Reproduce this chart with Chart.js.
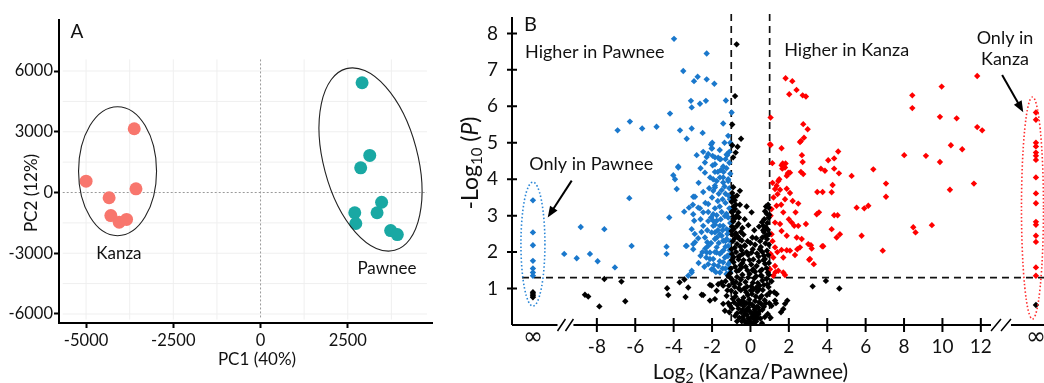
<!DOCTYPE html>
<html>
<head>
<meta charset="utf-8">
<script src="https://cdn.jsdelivr.net/npm/chart.js@4.4.1/dist/chart.umd.min.js"></script>
<style>
  html, body { margin: 0; padding: 0; background: #fff; }
  #wrapA { position: absolute; left: 0; top: 0; width: 440px; height: 383px; }
  #wrapB { position: absolute; left: 440px; top: 0; width: 604px; height: 383px; }
</style>
</head>
<body>
<div id="wrapA"><canvas id="pca"></canvas></div>
<div id="wrapB"><canvas id="volcano"></canvas></div>
<script>
// ---------- Panel A : PCA scores ----------
var kanzaPC1 = [-5000, -3620, -3570, -4340, -4290, -4050, -3840];
var kanzaPC2 = [560, 3150, 180, -260, -1140, -1470, -1330];
var pawneePC1 = [2910, 3130, 2870, 3470, 3340, 2700, 2730, 3730, 3920];
var pawneePC2 = [5420, 1830, 1220, -480, -1000, -1000, -1530, -1880, -2080];
var pcaXTicks = [-5000, -2500, 0, 2500];
var pcaYTicks = [-6000, -3000, 0, 3000, 6000];
var pcaGridX = [-5000, -3750, -2500, -1250, 1250, 2500, 3750];
var pcaGridY = [-6000, -4500, -3000, -1500, 1500, 3000, 4500, 6000];

// ---------- Panel B : volcano plot ----------
var volcanoXTicks = [-8, -6, -4, -2, 0, 2, 4, 6, 8, 10, 12];
var volcanoYTicks = [1, 2, 3, 4, 5, 6, 7, 8];
var infLeft = -11.33, infRight = 14.87;   // where the "only in" columns sit
var pCutoff = 1.3, foldCutoff = 1;

var higherPawnee = [
  [-3.98,7.85],[-2.28,7.45],[-3.5,6.97],[-2.75,6.81],[-2.94,6.69],[-2.28,6.74],[-1.88,6.62],[-3.1,6.15],[-2.63,6.07],[-2.32,6.15],
  [-1.28,6.16],[-4.19,5.8],[-1.42,5.53],[-6.28,5.58],[-6.92,5.34],[-5.64,5.39],[-4.89,5.44],[-3.67,5.34],[-3.06,5.39],[-3.32,5.11],
  [-1.16,5.19],[-1.99,5.0],[-2.02,4.84],[-2.46,4.75],[-2.8,4.66],[-2.28,4.61],[-1.68,4.59],[-1.24,4.68],[-1.85,4.41],[-2.37,4.46],
  [-1.42,4.35],[-3.76,4.35],[-4.02,4.11],[-2.37,4.18],[-1.76,3.95],[-1.42,4.05],[-1.16,3.95],[-3.84,3.73],[-2.46,3.65],[-1.85,3.77],
  [-1.5,3.7],[-2.98,3.52],[-1.07,3.45],[-6.31,3.48],[-3.2,3.22],[-2.63,3.2],[-2.2,3.1],[-3.45,3.11],[-4.23,2.95],[-1.76,3.01],
  [-1.33,2.99],[-8.84,2.69],[-7.61,2.63],[-2.93,2.86],[-2.46,2.72],[-1.94,2.86],[-1.42,2.72],[-2.72,2.38],[-1.85,2.54],[-1.5,2.45],
  [-3.36,2.17],[-2.98,2.22],[-6.19,2.17],[-4.37,2.15],[-4.37,1.95],[-9.7,1.95],[-9.05,1.83],[-8.36,1.95],[-7.96,1.75],[-7.06,1.58],
  [-2.28,1.99],[-2.11,1.81],[-1.76,1.99],[-1.42,1.72],[-1.16,1.9],[-3.06,1.49],[-3.24,1.35],[-1.94,1.53],[-1.24,1.4],[-2.25,2.27],
  [-1.24,2.36],[-0.98,5.83],[-2.49,5.27],[-2.05,4.95],[-2.0,4.85],[-2.2,4.69],[-1.85,4.6],[-1.59,4.55],[-1.21,4.66],[-0.98,4.94],
  [-3.06,5.97],[-1.97,4.64],[-1.55,4.55],[-1.97,4.38],[-3.76,4.32],[-3.93,4.0],[-1.94,4.0],[-1.59,4.05],[-1.42,3.91],[-1.16,4.0],
  [-1.85,3.82],[-1.94,3.68],[-2.89,3.52],[-2.2,3.32],[-2.72,3.22],[-2.46,3.09],[-2.98,3.04],[-1.94,3.04],[-1.76,2.86],[-1.16,2.95],
  [-1.94,2.72],[-1.59,2.72],[-1.24,2.63],[-3.06,2.63],[-2.02,2.54],[-1.59,2.49],[-2.37,2.4],[-1.85,2.36],[-1.42,2.31],[-3.32,2.17],
  [-2.89,2.27],[-2.98,2.08],[-2.2,2.17],[-1.76,2.13],[-1.16,2.17],[-2.11,1.99],[-1.59,1.95],[-1.94,1.81],[-1.33,1.85],[-2.2,1.67],
  [-1.68,1.62],[-1.16,1.67],[-3.06,1.44],[-1.59,1.44],[-1.24,1.4],[-2.02,1.53],[-1.1,3.2],[-1.3,3.35],[-1.7,3.4],[-2.0,3.5],
  [-1.5,3.1],[-1.05,2.8],[-1.2,2.5],[-1.08,2.05],[-1.3,2.15],[-1.5,2.0],[-1.45,1.55],[-1.1,1.55],[-1.8,1.45],[-2.4,1.6],
  [-2.6,1.9],[-2.35,2.1],[-1.65,2.25],[-1.05,2.3],[-2.55,2.55],[-1.7,2.6],[-2.2,2.85],[-1.6,3.25],[-1.3,3.6],[-1.1,3.75],
  [-1.55,4.25],[-1.25,4.3],[-1.1,4.45],[-1.7,4.2],[-1.05,5.0],[-1.1,4.75],[-1.3,1.55],[-1.6,1.75],[-1.9,1.65],[-2.3,1.85],
  [-1.05,1.75],[-1.4,2.05],[-1.85,2.0],[-2.05,2.25],[-1.3,2.3],[-1.75,2.4],[-2.25,2.6],[-1.45,2.6],[-1.1,2.6],[-1.85,2.75],
  [-1.55,2.9],[-2.05,2.95],[-1.25,3.05],[-1.85,3.2],[-2.35,3.35],[-1.45,3.45],[-1.15,3.55],[-1.65,3.6],[-2.15,3.75],[-1.35,3.8],
  [-1.05,4.15],[-1.4,4.2],[-1.85,4.2],[-2.1,4.05],[-1.3,4.55],[-1.6,4.8],[-1.35,5.0],[-2.6,4.3],[-2.7,3.9],[-2.5,2.0],
  [-2.7,1.7],[-2.9,2.5],[-2.6,2.9],[-3.0,3.3],[-1.05,1.45],[-1.2,1.9]
];

var higherKanza = [
  [1.83,6.77],[2.18,6.69],[2.4,6.45],[2.02,6.33],[2.72,6.3],[2.89,6.27],[11.81,6.83],[9.96,6.54],[8.43,6.3],[8.43,5.95],
  [9.87,5.71],[10.74,5.67],[11.81,5.43],[12.07,5.34],[1.05,5.69],[2.75,5.51],[2.98,5.37],[2.63,5.05],[2.79,5.14],[1.62,4.85],
  [2.68,4.66],[10.44,4.93],[11.03,4.82],[8.01,4.66],[9.14,4.64],[9.87,4.47],[1.05,4.94],[1.14,4.44],[1.68,4.43],[1.8,4.32],
  [2.06,4.18],[2.72,4.47],[2.63,4.2],[2.75,4.14],[4.57,4.76],[4.05,4.52],[4.36,4.57],[3.67,4.29],[3.88,4.23],[4.36,4.29],
  [4.61,4.16],[5.27,4.09],[6.4,4.27],[7.06,3.88],[7.06,3.52],[5.53,3.22],[5.93,3.2],[6.14,3.27],[4.28,3.84],[4.23,3.64],
  [3.48,3.65],[3.76,3.65],[10.39,3.71],[11.64,3.88],[3.57,3.09],[3.45,3.04],[4.36,3.01],[4.54,3.01],[4.23,2.63],[4.66,2.49],
  [4.49,2.4],[5.79,2.45],[3.74,2.16],[6.89,2.04],[8.48,2.68],[8.6,2.54],[9.45,2.74],[3.15,2.19],[3.06,1.79],[3.3,1.67],
  [1.94,4.14],[1.45,3.95],[1.36,3.82],[1.28,3.73],[1.54,3.71],[1.41,3.59],[1.89,3.74],[2.06,3.62],[1.8,3.45],[2.49,3.33],
  [1.36,3.27],[1.1,3.18],[1.71,3.09],[2.35,3.09],[1.28,2.81],[1.54,2.77],[2.15,2.81],[2.28,2.72],[2.49,2.72],[2.89,2.77],
  [1.62,2.58],[1.1,2.49],[1.89,2.45],[2.41,2.4],[2.67,2.36],[3.01,2.22],[3.19,2.1],[3.79,2.16],[1.28,2.13],[1.62,2.06],
  [1.89,2.05],[2.06,2.04],[2.44,2.08],[2.58,2.13],[1.19,1.85],[1.71,1.85],[2.32,1.92],[3.1,1.81],[1.28,1.62],[1.45,1.49],
  [1.71,1.44],[1.8,1.37],[1.19,1.35],[1.02,1.53],[2.58,5.02],[1.02,4.96],[1.62,4.38],[1.83,4.43],[1.66,4.29],[1.97,4.18],
  [1.89,4.09],[1.5,4.0],[1.15,3.9],[1.2,3.5],[1.05,3.0],[1.15,2.3],[1.05,1.95],[1.4,2.0],[1.3,1.45],[2.2,3.4],
  [2.0,2.9],[1.6,3.3]
];

var notSignificant = [
  [-0.32,0.12],[-0.22,0.05],[-0.12,0.18],[0.0,0.08],[0.06,0.22],[0.12,0.04],[0.2,0.15],[0.3,0.1],[-0.18,0.28],[0.16,0.3],
  [-0.05,0.02],[0.25,0.26],[-0.4,0.22],[0.38,0.2],[-0.62,0.45],[-0.48,0.35],[-0.36,0.52],[-0.26,0.4],[-0.1,0.48],[0.0,0.36],
  [0.1,0.55],[0.22,0.42],[0.34,0.5],[0.46,0.38],[0.56,0.58],[-0.52,0.58],[0.62,0.42],[-0.7,0.32],[-0.2,0.6],[0.3,0.33],
  [-0.92,0.72],[-0.78,0.88],[-0.62,0.68],[-0.5,0.95],[-0.36,0.75],[-0.22,0.9],[-0.06,0.7],[0.08,0.85],[0.24,0.66],[0.36,0.92],
  [0.5,0.74],[0.64,0.96],[0.74,0.68],[0.86,0.82],[-1.0,0.94],[-0.3,0.62],[0.15,0.98],[-0.85,0.62],[0.45,0.62],[-1.12,1.08],
  [-0.96,1.25],[-0.82,1.05],[-0.7,1.32],[-0.56,1.12],[-0.42,1.38],[-0.26,1.18],[-0.12,1.3],[0.04,1.06],[0.2,1.28],[0.38,1.15],
  [0.54,1.36],[0.7,1.1],[0.84,1.26],[0.94,1.04],[-0.6,1.0],[0.3,1.02],[-0.05,1.4],[-1.02,1.55],[-0.88,1.72],[-0.72,1.48],
  [-0.52,1.64],[-0.36,1.78],[-0.16,1.5],[0.04,1.66],[0.24,1.46],[0.44,1.74],[0.6,1.52],[0.76,1.68],[0.9,1.44],[-0.96,1.78],
  [0.15,1.8],[-0.62,1.8],[-0.96,1.95],[-0.82,2.12],[-0.62,1.88],[-0.46,2.05],[-0.3,2.18],[-0.12,1.92],[0.12,2.08],[0.34,1.96],
  [0.54,2.14],[0.7,1.9],[0.86,2.04],[0.96,2.2],[-0.75,2.0],[-0.92,2.3],[-0.76,2.52],[-0.56,2.35],[-0.36,2.48],[0.1,2.4],
  [0.5,2.3],[0.7,2.55],[0.86,2.36],[0.96,2.5],[-0.98,2.58],[-0.96,2.7],[-0.82,2.92],[-0.62,2.78],[-0.42,2.66],[0.6,2.82],
  [0.8,2.68],[0.95,2.94],[-0.9,2.84],[-0.9,3.12],[-0.76,3.3],[0.85,3.05],[0.95,3.22],[-0.98,3.38],[-0.85,3.5],[-0.95,3.62],
  [-0.9,3.78],[-0.55,3.68],[-0.72,7.7],[-0.8,6.28],[-0.95,5.5],[-0.49,5.11],[-0.67,4.89],[-0.77,4.73],[-0.9,4.6],[-0.95,4.93],
  [-0.63,3.09],[-0.2,3.25],[0.06,3.09],[-0.11,2.74],[0.67,2.72],[0.81,3.25],[0.84,2.45],[-0.8,3.18],[-0.72,2.45],[-0.29,2.17],
  [-0.55,1.9],[0.06,1.99],[0.49,2.08],[0.75,1.81],[-0.46,1.58],[0.15,1.53],[0.58,1.35],[-8.62,0.83],[-8.45,0.78],[-7.87,0.51],
  [-7.61,1.26],[-6.72,1.19],[-6.52,0.65],[-4.34,1.01],[-4.28,0.82],[-3.69,1.17],[-3.44,1.25],[-3.24,1.03],[-3.38,0.77],[-2.54,0.83],
  [-2.11,1.1],[-1.85,0.71],[-1.42,1.08],[-2.46,0.82],[-2.11,0.67],[-2.02,1.08],[-1.76,0.94],[-1.5,1.17],[-1.42,0.58],[-1.33,0.39],
  [-1.24,0.8],[-1.07,0.53],[-1.68,1.12],[1.02,0.9],[1.28,0.67],[1.36,0.85],[1.1,0.53],[1.8,0.58],[1.92,0.67],[1.71,0.44],
  [3.24,1.06],[3.93,1.21],[4.63,1.0],[1.33,0.6],[1.59,0.35],[1.24,0.9],
  [-0.45,0.1],[-0.28,0.3],[-0.08,0.12],[0.08,0.32],[0.22,0.08],[0.42,0.3],[-0.58,0.2],[0.52,0.18],[-0.15,0.42],[0.18,0.5],
  [0.4,0.48],[-0.4,0.42],[-0.04,0.6],[0.28,0.78],[-0.44,0.66],[0.58,0.8],[-0.68,0.55],[0.7,0.5],[-0.14,0.82],[0.02,0.95],
  [-0.32,1.0],[0.44,0.98],[-0.78,0.78],[0.8,0.6],[-0.9,1.15],[0.12,1.16],[-0.18,1.05],[0.62,1.22],[-0.5,1.25],[0.3,1.34],
  [0.88,1.12],[-1.06,1.3],[-0.76,1.18],[0.48,1.08],[-1.05,1.42],[-0.8,1.6],[-0.6,1.5],[-0.42,1.7],[-0.25,1.6],[-0.05,1.78],
  [0.1,1.5],[0.32,1.62],[0.52,1.48],[0.68,1.78],[0.84,1.56],[0.96,1.7],[-0.98,2.08],[-0.7,2.22],[-0.52,2.15],[-0.2,2.0],
  [0.0,2.25],[0.24,2.2],[0.42,1.88],[0.62,2.0],[0.78,2.24],[0.92,1.92],[-0.88,1.86],[-0.4,1.95],[0.3,2.38],[-0.65,2.42],
  [-0.82,2.38],[-0.45,2.32],[0.62,2.4],[0.8,2.44],[-0.15,2.3],[-0.95,2.48],[-0.86,2.64],[-0.7,2.72],[-0.9,2.98],[-0.72,3.0],
  [-0.98,3.1],[-0.82,3.42],[-0.92,3.5],[-0.7,3.55],[-0.88,3.25],[-0.6,2.95],[-0.5,2.55],[0.72,2.9],[0.88,2.8],[0.9,2.62],
  [0.76,3.12],[0.98,3.02],[0.66,2.6],[0.92,3.3],[-0.55,3.3],[-0.3,2.9],[0.2,2.6],[0.45,2.7],[-1.15,0.6],[-1.2,0.95],
  [-1.1,0.35],[-0.95,0.45],[0.9,0.3],[0.98,0.6],[1.05,0.2],[-0.8,0.25],[0.75,0.22],[-1.3,1.2],[1.1,1.2],[0.96,1.38],
  [-1.16,1.35],[-0.7,0.1],[0.6,0.05]
];

// -log10(P) of proteins detected in one genotype only
var onlyPawneeSig = [3.42, 2.54, 2.19, 1.76, 1.55, 1.44, 1.35];
var onlyPawneeNS = [0.9, 0.85, 0.8, 0.76];
var onlyKanzaSig = [5.83, 5.63, 5.0, 4.9, 4.73, 4.64, 4.53, 4.05, 3.61, 3.34, 2.83, 2.75, 2.45, 2.28, 1.58, 1.35];
var onlyKanzaNS = [0.55];

var FONT = 'Lato';
var TXT = '#111';

function pairs(arr) { return arr.map(function (p) { return { x: p[0], y: p[1] }; }); }
function column(x, ys) { return ys.map(function (v) { return { x: x, y: v }; }); }

// text with subscripts / italics: parts = [text, size, dy, italic]
function richText(ctx, parts, x, y) {
  var w = 0;
  parts.forEach(function (p) { ctx.font = (p[3] ? 'italic ' : '') + p[1] + 'px ' + FONT; w += ctx.measureText(p[0]).width; });
  var cx = x - w / 2;
  ctx.textAlign = 'left';
  ctx.textBaseline = 'middle';
  parts.forEach(function (p) {
    ctx.font = (p[3] ? 'italic ' : '') + p[1] + 'px ' + FONT;
    ctx.fillText(p[0], cx, y + (p[2] || 0));
    cx += ctx.measureText(p[0]).width;
  });
}

function arrow(ctx, x1, y1, x2, y2) {
  var ang = Math.atan2(y2 - y1, x2 - x1), h = 12;
  ctx.beginPath();
  ctx.moveTo(x1, y1);
  ctx.lineTo(x2 - Math.cos(ang) * h * 0.8, y2 - Math.sin(ang) * h * 0.8);
  ctx.stroke();
  ctx.beginPath();
  ctx.moveTo(x2, y2);
  ctx.lineTo(x2 - h * Math.cos(ang - 0.38), y2 - h * Math.sin(ang - 0.38));
  ctx.lineTo(x2 - h * Math.cos(ang + 0.38), y2 - h * Math.sin(ang + 0.38));
  ctx.closePath();
  ctx.fill();
}

// ---------- Panel A decorations ----------
var pcaDecor = {
  id: 'pcaDecor',
  beforeDatasetsDraw: function (chart) {
    var ctx = chart.ctx, x = chart.scales.x, y = chart.scales.y;
    var x0 = x.getPixelForValue(-5670), x1 = x.getPixelForValue(4770);
    var y0 = y.getPixelForValue(6573), y1 = y.getPixelForValue(-6277);
    ctx.save();
    ctx.strokeStyle = '#efefef';
    ctx.lineWidth = 1;
    pcaGridX.forEach(function (v) {
      var p = x.getPixelForValue(v);
      ctx.beginPath(); ctx.moveTo(p, y0); ctx.lineTo(p, y1); ctx.stroke();
    });
    pcaGridY.forEach(function (v) {
      var p = y.getPixelForValue(v);
      ctx.beginPath(); ctx.moveTo(x0, p); ctx.lineTo(x1, p); ctx.stroke();
    });
    ctx.strokeStyle = '#9a9a9a';
    ctx.setLineDash([2, 2]);
    var zx = x.getPixelForValue(0), zy = y.getPixelForValue(0);
    ctx.beginPath(); ctx.moveTo(zx, y0); ctx.lineTo(zx, y1); ctx.stroke();
    ctx.beginPath(); ctx.moveTo(x0, zy); ctx.lineTo(x1, zy); ctx.stroke();
    ctx.restore();
  },
  afterDatasetsDraw: function (chart) {
    var ctx = chart.ctx, x = chart.scales.x, y = chart.scales.y;
    ctx.save();
    ctx.strokeStyle = '#222';
    ctx.lineWidth = 1.1;
    // group ellipses
    var kx = x.getPixelForValue(-4098), ky = y.getPixelForValue(1053);
    ctx.beginPath(); ctx.ellipse(kx, ky, 39, 64.5, 0, 0, Math.PI * 2); ctx.stroke();
    var px = x.getPixelForValue(3152), py = y.getPixelForValue(1631);
    ctx.beginPath(); ctx.ellipse(px, py, 47, 94, -0.26, 0, Math.PI * 2); ctx.stroke();

    ctx.fillStyle = TXT;
    ctx.textAlign = 'center';
    ctx.textBaseline = 'middle';
    ctx.font = '17px ' + FONT;
    ctx.fillText('Kanza', x.getPixelForValue(-4060), y.getPixelForValue(-3015));
    ctx.fillText('Pawnee', x.getPixelForValue(3624), y.getPixelForValue(-3756));
    ctx.font = '19px ' + FONT;
    ctx.textAlign = 'left';
    ctx.fillText('A', x.getPixelForValue(-5448), y.getPixelForValue(7957));
    // axis titles
    ctx.textAlign = 'center';
    ctx.font = '17px ' + FONT;
    ctx.fillText('PC1 (40%)', 257, 360);
    ctx.translate(32, 193);
    ctx.rotate(-Math.PI / 2);
    ctx.fillText('PC2 (12%)', 0, 0);
    ctx.restore();
  }
};

new Chart(document.getElementById('pca'), {
  type: 'scatter',
  data: {
    datasets: [
      { label: 'Kanza', data: kanzaPC1.map(function (v, i) { return { x: v, y: kanzaPC2[i] }; }),
        backgroundColor: '#F8766D', borderWidth: 0, pointRadius: 6.5 },
      { label: 'Pawnee', data: pawneePC1.map(function (v, i) { return { x: v, y: pawneePC2[i] }; }),
        backgroundColor: '#19A8A3', borderWidth: 0, pointRadius: 6.5 }
    ]
  },
  options: {
    responsive: true,
    maintainAspectRatio: false,
    animation: false,
    layout: { autoPadding: false, padding: { top: 20, right: 8, left: 0, bottom: 0 } },
    plugins: { legend: { display: false }, tooltip: { enabled: false } },
    scales: {
      x: {
        type: 'linear', min: -5776, max: 4914,
        afterBuildTicks: function (s) { s.ticks = pcaXTicks.map(function (v) { return { value: v }; }); },
        afterFit: function (s) { s.height = 60; s.paddingLeft = 0; s.paddingRight = 0; },
        grid: { display: true, drawOnChartArea: false, tickLength: 5, tickWidth: 2, tickColor: '#000' },
        border: { display: true, color: '#000', width: 2 },
        ticks: { color: TXT, font: { family: FONT, size: 16.5 }, padding: 3, maxRotation: 0, autoSkip: false,
                 callback: function (v) { return String(v); } }
      },
      y: {
        type: 'linear', min: -6445, max: 8520,
        afterBuildTicks: function (s) { s.ticks = pcaYTicks.map(function (v) { return { value: v }; }); },
        afterFit: function (s) { s.width = 59; s.paddingTop = 0; s.paddingBottom = 0; },
        grid: { display: true, drawOnChartArea: false, tickLength: 5, tickWidth: 2, tickColor: '#000' },
        border: { display: true, color: '#000', width: 2 },
        ticks: { color: TXT, font: { family: FONT, size: 16.5 }, padding: 1, autoSkip: false,
                 callback: function (v) { return String(v); } }
      }
    }
  },
  plugins: [pcaDecor]
});

// ---------- Panel B decorations ----------
var breakLeft = [-10.05, -9.22], breakRight = [12.53, 13.57];

var volcanoDecor = {
  id: 'volcanoDecor',
  beforeDatasetsDraw: function (chart) {
    var ctx = chart.ctx, a = chart.chartArea, x = chart.scales.x, y = chart.scales.y;
    ctx.save();
    ctx.strokeStyle = '#111';
    ctx.lineWidth = 1.7;
    ctx.setLineDash([7, 5]);
    var yp = y.getPixelForValue(pCutoff);
    ctx.beginPath(); ctx.moveTo(x.getPixelForValue(-11.9), yp); ctx.lineTo(a.right, yp); ctx.stroke();
    [-foldCutoff, foldCutoff].forEach(function (v) {
      var xp = x.getPixelForValue(v);
      ctx.beginPath(); ctx.moveTo(xp, a.top - 3); ctx.lineTo(xp, a.bottom); ctx.stroke();
    });
    ctx.restore();
  },
  afterDatasetsDraw: function (chart) {
    var ctx = chart.ctx, a = chart.chartArea, x = chart.scales.x, y = chart.scales.y;
    ctx.save();
    ctx.strokeStyle = '#000';
    ctx.fillStyle = '#000';
    ctx.lineWidth = 2;
    // y axis with crossing ticks
    ctx.beginPath();
    ctx.moveTo(a.left, a.top); ctx.lineTo(a.left, a.bottom);
    volcanoYTicks.forEach(function (v) {
      var p = y.getPixelForValue(v);
      ctx.moveTo(a.left - 5, p); ctx.lineTo(a.left + 5, p);
    });
    // x axis broken at both ends
    var bl0 = x.getPixelForValue(breakLeft[0]), bl1 = x.getPixelForValue(breakLeft[1]);
    var br0 = x.getPixelForValue(breakRight[0]), br1 = x.getPixelForValue(breakRight[1]);
    ctx.moveTo(a.left, a.bottom); ctx.lineTo(bl0, a.bottom);
    ctx.moveTo(bl1, a.bottom); ctx.lineTo(br0, a.bottom);
    ctx.moveTo(br1, a.bottom); ctx.lineTo(a.right, a.bottom);
    volcanoXTicks.forEach(function (v) {
      var p = x.getPixelForValue(v);
      ctx.moveTo(p, a.bottom - 7); ctx.lineTo(p, a.bottom + 7);
    });
    ctx.stroke();
    ctx.lineWidth = 1.5;
    [[bl0, bl1], [br0, br1]].forEach(function (b) {
      var w = (b[1] - b[0]) / 2;
      ctx.beginPath();
      ctx.moveTo(b[0], a.bottom + 6); ctx.lineTo(b[0] + w, a.bottom - 6);
      ctx.moveTo(b[0] + w, a.bottom + 6); ctx.lineTo(b[1], a.bottom - 6);
      ctx.stroke();
    });

    // dotted ellipses round the "only in" columns
    ctx.lineWidth = 1.6;
    ctx.setLineDash([1.5, 2.2]);
    ctx.strokeStyle = '#2a86d6';
    ctx.beginPath(); ctx.ellipse(x.getPixelForValue(infLeft), y.getPixelForValue(2.22), 12, 62, 0, 0, Math.PI * 2); ctx.stroke();
    ctx.strokeStyle = '#ff2a2a';
    ctx.beginPath(); ctx.ellipse(x.getPixelForValue(14.69), y.getPixelForValue(3.21), 11, 111, 0, 0, Math.PI * 2); ctx.stroke();
    ctx.setLineDash([]);

    // arrows
    ctx.strokeStyle = '#000';
    ctx.lineWidth = 2;
    arrow(ctx, x.getPixelForValue(-9.31), y.getPixelForValue(3.96), x.getPixelForValue(-10.56), y.getPixelForValue(2.95));
    arrow(ctx, x.getPixelForValue(13.11), y.getPixelForValue(6.86), x.getPixelForValue(14.21), y.getPixelForValue(5.84));

    // labels
    ctx.fillStyle = TXT;
    ctx.textBaseline = 'middle';
    ctx.textAlign = 'left';
    ctx.font = '20px ' + FONT;
    ctx.fillText('B', x.getPixelForValue(-11.8), y.getPixelForValue(8.23));
    ctx.font = '18px ' + FONT;
    ctx.fillText('Higher in Pawnee', x.getPixelForValue(-11.74), y.getPixelForValue(7.48));
    ctx.fillText('Higher in Kanza', x.getPixelForValue(1.76), y.getPixelForValue(7.53));
    ctx.fillText('Only in Pawnee', x.getPixelForValue(-11.52), y.getPixelForValue(4.42));
    ctx.textAlign = 'center';
    ctx.fillText('Only in', x.getPixelForValue(13.26), y.getPixelForValue(7.87));
    ctx.fillText('Kanza', x.getPixelForValue(13.26), y.getPixelForValue(7.3));

    // infinity tick labels under the "only in" columns
    ctx.font = '24px "DejaVu Sans"';
    ctx.fillText('\u221E', x.getPixelForValue(infLeft), a.bottom + 13);
    ctx.fillText('\u221E', x.getPixelForValue(infRight), a.bottom + 13);

    // axis titles
    richText(ctx, [['Log', 21], ['2', 14, 6], [' (Kanza/Pawnee)', 21]], x.getPixelForValue(0), 372);
    ctx.translate(31, 163);
    ctx.rotate(-Math.PI / 2);
    richText(ctx, [['-Log', 23], ['10', 15, 6], [' (', 23], ['P', 23, 0, true], [')', 23]], 0, 0);
    ctx.restore();
  }
};

var diamond = { pointStyle: 'rectRot', pointRadius: 3.2, borderWidth: 0 };

new Chart(document.getElementById('volcano'), {
  type: 'scatter',
  data: {
    datasets: [
      Object.assign({ label: 'n.s.', backgroundColor: '#000',
        data: pairs(notSignificant).concat(column(infLeft, onlyPawneeNS), column(infRight, onlyKanzaNS)) }, diamond),
      Object.assign({ label: 'Higher in Pawnee', backgroundColor: '#1a78cc',
        data: pairs(higherPawnee).concat(column(infLeft, onlyPawneeSig)) }, diamond),
      Object.assign({ label: 'Higher in Kanza', backgroundColor: '#ff0000',
        data: pairs(higherKanza).concat(column(infRight, onlyKanzaSig)) }, diamond)
    ]
  },
  options: {
    responsive: true,
    maintainAspectRatio: false,
    animation: false,
    layout: { autoPadding: false, padding: { top: 17, right: 0, left: 0, bottom: 0 } },
    plugins: { legend: { display: false }, tooltip: { enabled: false } },
    scales: {
      x: {
        type: 'linear', min: -12.42, max: 15.29,
        afterBuildTicks: function (s) { s.ticks = volcanoXTicks.map(function (v) { return { value: v }; }); },
        afterFit: function (s) { s.height = 58; s.paddingLeft = 0; s.paddingRight = 0; },
        grid: { display: false, drawTicks: false },
        border: { display: false },
        ticks: { color: TXT, padding: 10, maxRotation: 0, autoSkip: false, font: { family: FONT, size: 19 },
                 callback: function (v) { return String(v); } }
      },
      y: {
        type: 'linear', min: 0, max: 8.45,
        afterBuildTicks: function (s) { s.ticks = volcanoYTicks.map(function (v) { return { value: v }; }); },
        afterFit: function (s) { s.width = 72; s.paddingTop = 0; s.paddingBottom = 0; },
        grid: { display: false, drawTicks: false },
        border: { display: false },
        ticks: { color: TXT, font: { family: FONT, size: 19 }, padding: 14, autoSkip: false,
                 callback: function (v) { return String(v); } }
      }
    }
  },
  plugins: [volcanoDecor]
});
</script>
</body>
</html>
